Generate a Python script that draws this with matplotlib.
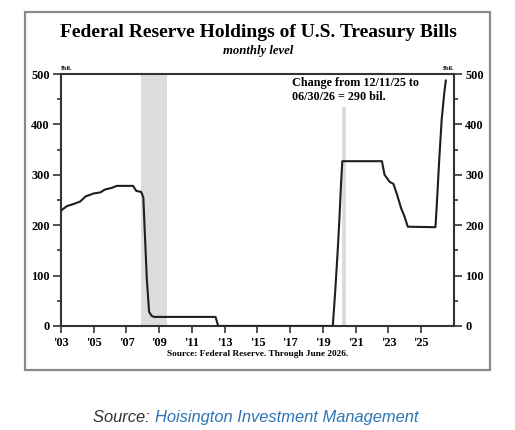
import matplotlib
matplotlib.use("Agg")
import matplotlib.pyplot as plt
from matplotlib.patches import Rectangle
from matplotlib.ticker import MultipleLocator

# monthly level of Fed T-bill holdings, $bil.
dates = [2003.0, 2003.37, 2003.77, 2004.17, 2004.5, 2005.0, 2005.4, 2005.7,
         2006.1, 2006.4, 2007.4, 2007.6, 2007.9, 2008.03, 2008.1, 2008.24,
         2008.38, 2008.54, 2008.7, 2012.44, 2012.6, 2019.6, 2019.75, 2019.9,
         2020.0, 2020.1, 2020.18, 2022.6, 2022.76, 2023.07, 2023.3, 2023.5,
         2023.78, 2023.98, 2024.18, 2025.87, 2025.95, 2026.1, 2026.25,
         2026.4, 2026.5]
values = [229, 238, 242, 247, 257, 263, 265, 271,
          274, 278, 278, 268, 266, 255, 200, 95,
          28, 20, 18, 18, 0, 0, 70, 150,
          210, 280, 327, 327, 300, 286, 282, 263,
          233, 217, 197, 196, 240, 330, 410, 460, 487]

recessions = [(2007.9, 2009.45, 500), (2020.15, 2020.4, 435)]

year_ticks = list(range(2003, 2027, 2))
year_labels = ["'%02d" % (y % 100) for y in year_ticks]
y_ticks = [0, 100, 200, 300, 400, 500]

serif = "Liberation Serif"

fig = plt.figure(figsize=(5.15, 4.3), dpi=100)
ax = fig.add_axes([0.1184, 0.2419, 0.7631, 0.586])

for start, end, top in recessions:
    ax.axvspan(start, end, ymax=top / 500, color="#dcdcdc", lw=0, zorder=0)

ax.plot(dates, values, color="#1e1e1e", lw=1.5, zorder=3)

ax.set_xlim(2003, 2027)
ax.set_ylim(0, 500)
ax.set_xticks(year_ticks)
ax.set_xticklabels(year_labels)
ax.set_yticks(y_ticks)
ax.yaxis.set_minor_locator(MultipleLocator(50))

ax.tick_params(axis="y", which="both", left=True, right=True,
               labelleft=True, labelright=True, direction="out",
               color="#333333", width=1.2)
ax.tick_params(axis="y", which="major", length=6, pad=2)
ax.tick_params(axis="y", which="minor", length=3)
ax.tick_params(axis="x", which="major", length=5, direction="out",
               color="#333333", width=1.2, pad=3)
for lab in ax.get_xticklabels() + ax.yaxis.get_majorticklabels() + \
        [t.label2 for t in ax.yaxis.get_major_ticks()]:
    lab.set_fontfamily(serif)
    lab.set_fontweight("bold")
    lab.set_fontsize(8.8)

for s in ax.spines.values():
    s.set_color("#333333")
    s.set_linewidth(1.5)

ax.text(2017.1, 494, "Change from 12/11/25 to\n06/30/26 = 290 bil.",
        family=serif, fontweight="bold", fontsize=8.7, va="top", ha="left",
        linespacing=1.25)

ax.text(0.0, 1.01, "$bil.", transform=ax.transAxes, family=serif,
        fontweight="bold", fontsize=4.5, ha="left", va="bottom")
ax.text(1.0, 1.01, "$bil.", transform=ax.transAxes, family=serif,
        fontweight="bold", fontsize=4.5, ha="right", va="bottom")

fig.text(0.501, 0.925, "Federal Reserve Holdings of U.S. Treasury Bills",
         family=serif, fontweight="bold", fontsize=14, ha="center",
         va="center")
fig.text(0.501, 0.881, "monthly level", family=serif, fontweight="bold",
         style="italic", fontsize=9.2, ha="center", va="center")
fig.text(0.501, 0.177, "Source: Federal Reserve. Through June 2026.",
         family=serif, fontweight="bold", fontsize=6.7, ha="center",
         va="center")

fig.patches.append(Rectangle((0.0485, 0.1395), 0.903, 0.8326,
                             transform=fig.transFigure, fill=False,
                             edgecolor="#8a8a8a", lw=1.6))

t1 = fig.text(0.181, 0.03, "Source: ", family="Liberation Sans",
              style="italic", fontsize=11.9, color="#333333",
              ha="left", va="center")
fig.canvas.draw()
bb = t1.get_window_extent()
x_next = bb.x1 / fig.bbox.width
fig.text(x_next, 0.03, "Hoisington Investment Management",
         family="Liberation Sans", style="italic", fontsize=11.9,
         color="#2e75b6", ha="left", va="center")

fig.savefig("out.png", dpi=100)
